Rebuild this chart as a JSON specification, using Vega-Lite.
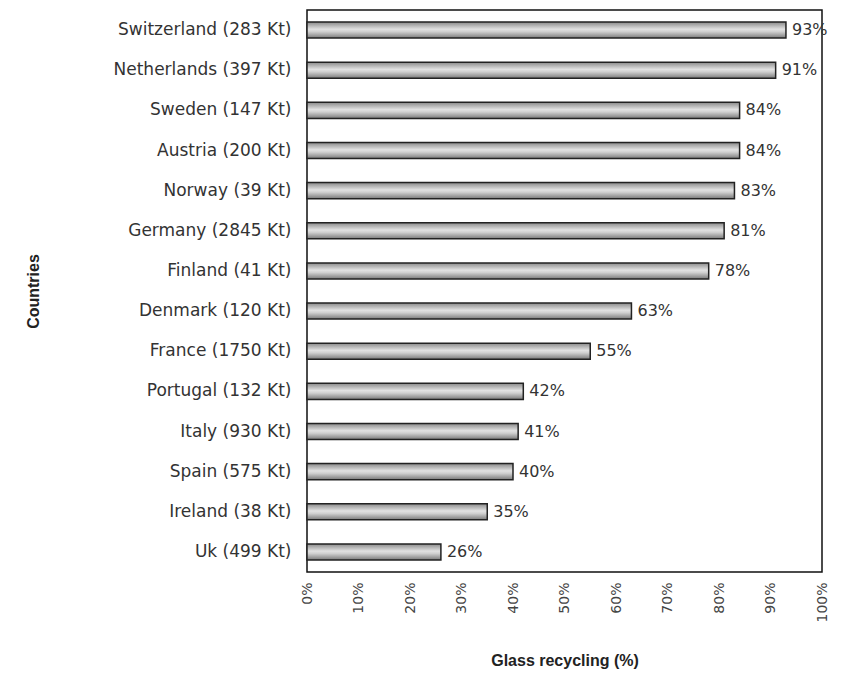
{
  "$schema": "https://vega.github.io/schema/vega-lite/v6.json",
  "autosize": "none",
  "width": 515,
  "height": 562,
  "padding": {"left": 307, "top": 10, "right": 20, "bottom": 103},
  "background": "white",
  "config": {
    "font": "DejaVu Sans",
    "view": {"stroke": "#111", "strokeWidth": 1.5}
  },
  "data": {
    "values": [
      {"country": "Switzerland (283 Kt)", "share": 0.93},
      {"country": "Netherlands (397 Kt)", "share": 0.91},
      {"country": "Sweden (147 Kt)", "share": 0.84},
      {"country": "Austria (200 Kt)", "share": 0.84},
      {"country": "Norway (39 Kt)", "share": 0.83},
      {"country": "Germany (2845 Kt)", "share": 0.81},
      {"country": "Finland (41 Kt)", "share": 0.78},
      {"country": "Denmark (120 Kt)", "share": 0.63},
      {"country": "France (1750 Kt)", "share": 0.55},
      {"country": "Portugal (132 Kt)", "share": 0.42},
      {"country": "Italy (930 Kt)", "share": 0.41},
      {"country": "Spain (575 Kt)", "share": 0.40},
      {"country": "Ireland (38 Kt)", "share": 0.35},
      {"country": "Uk (499 Kt)", "share": 0.26}
    ]
  },
  "encoding": {
    "y": {
      "field": "country",
      "type": "nominal",
      "sort": null,
      "scale": {"paddingInner": 0.6, "paddingOuter": 0.3},
      "axis": {
        "title": "Countries",
        "titleFont": "Liberation Sans",
        "titleFontSize": 16,
        "titleFontWeight": "bold",
        "titleColor": "#222",
        "titlePadding": 72,
        "labelFontSize": 17,
        "labelColor": "#333",
        "labelPadding": 16,
        "ticks": false,
        "domain": false,
        "grid": false
      }
    },
    "x": {
      "field": "share",
      "type": "quantitative",
      "scale": {"domain": [0, 1], "nice": false},
      "axis": {
        "title": "Glass recycling (%)",
        "titleFont": "Liberation Sans",
        "titleFontSize": 16,
        "titleFontWeight": "bold",
        "titleColor": "#222",
        "titlePadding": 30,
        "values": [0, 0.1, 0.2, 0.3, 0.4, 0.5, 0.6, 0.7, 0.8, 0.9, 1],
        "format": ".0%",
        "labelAngle": -90,
        "labelFontSize": 14,
        "labelColor": "#444",
        "labelPadding": 10,
        "ticks": false,
        "domain": false,
        "grid": false
      }
    }
  },
  "layer": [
    {
      "mark": {
        "type": "bar",
        "stroke": "#222",
        "strokeWidth": 1.5,
        "color": {
          "gradient": "linear",
          "x1": 0, "y1": 0, "x2": 0, "y2": 1,
          "stops": [
            {"offset": 0, "color": "#8a8a8a"},
            {"offset": 0.45, "color": "#e2e2e2"},
            {"offset": 0.6, "color": "#d0d0d0"},
            {"offset": 1, "color": "#7a7a7a"}
          ]
        }
      }
    },
    {
      "mark": {"type": "text", "align": "left", "dx": 6, "fontSize": 16, "color": "#333"},
      "encoding": {"text": {"field": "share", "type": "quantitative", "format": ".0%"}}
    }
  ]
}
